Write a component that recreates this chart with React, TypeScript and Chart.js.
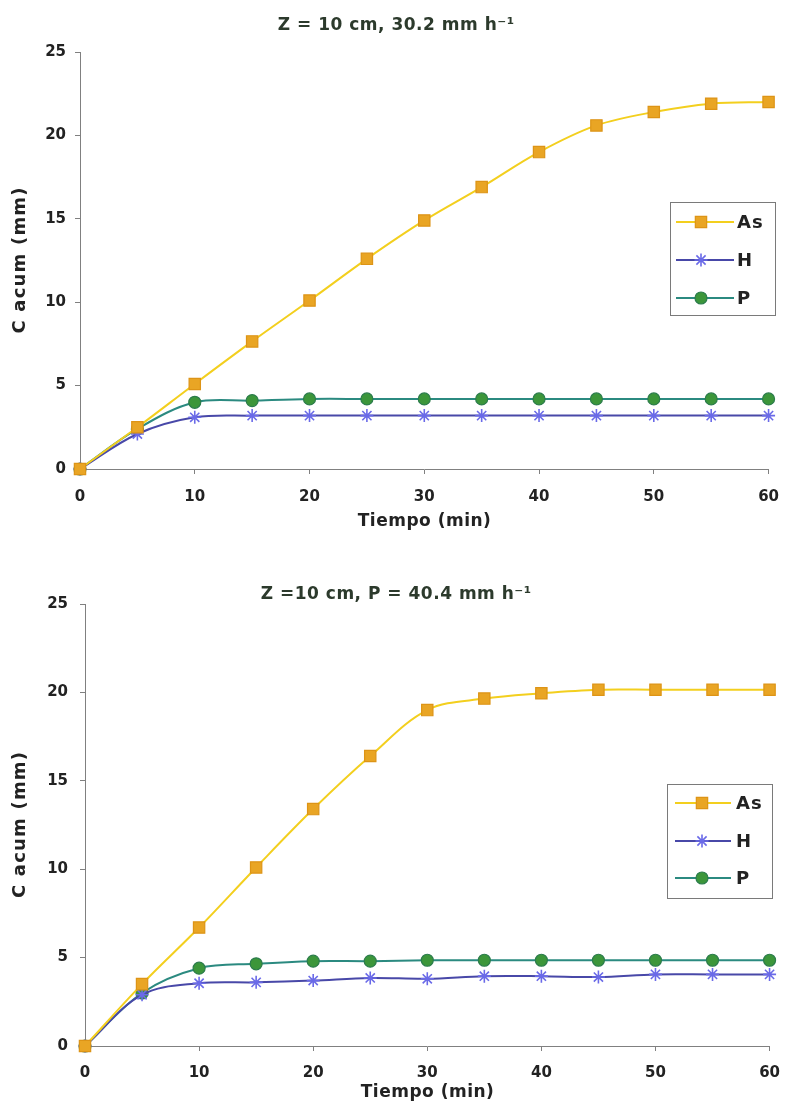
import React, { useEffect, useRef } from "react";
import { Chart, registerables } from "chart.js";
import { drawPoint } from "chart.js/helpers";

Chart.register(...registerables);

// ---------- data ----------
const tiempo = [0, 5, 10, 15, 20, 25, 30, 35, 40, 45, 50, 55, 60];

const asTop = [0, 2.5, 5.1, 7.65, 10.1, 12.6, 14.9, 16.9, 19.0, 20.6, 21.4, 21.9, 22.0];
const hTop = [0, 2.1, 3.1, 3.2, 3.2, 3.2, 3.2, 3.2, 3.2, 3.2, 3.2, 3.2, 3.2];
const pTop = [0, 2.4, 4.0, 4.1, 4.2, 4.2, 4.2, 4.2, 4.2, 4.2, 4.2, 4.2, 4.2];

const asBot = [0, 3.5, 6.7, 10.1, 13.4, 16.4, 19.0, 19.65, 19.95, 20.15, 20.15, 20.15, 20.15];
const hBot = [0, 2.9, 3.55, 3.6, 3.7, 3.85, 3.8, 3.95, 3.95, 3.9, 4.05, 4.05, 4.05];
const pBot = [0, 3.0, 4.4, 4.65, 4.8, 4.8, 4.85, 4.85, 4.85, 4.85, 4.85, 4.85, 4.85];

const seriesLabels = ["As", "H", "P"];
const titleTop = "Z = 10 cm, 30.2 mm h⁻¹";
const titleBot = "Z =10 cm, P = 40.4 mm h⁻¹";
const xTitle = "Tiempo (min)";
const yTitle = "C acum (mm)";

const FONT = "'DejaVu Sans', 'Liberation Sans', Arial, sans-serif";

const seriesStyles = [
  {
    borderColor: "#f3cf1e",
    pointStyle: "rect",
    pointRadius: 8,
    pointBorderWidth: 1.2,
    pointBackgroundColor: "#e9a524",
    pointBorderColor: "#dd9416",
  },
  {
    borderColor: "#4848a8",
    pointStyle: "star",
    pointRadius: 6.5,
    pointBorderWidth: 1.6,
    pointBackgroundColor: "#6a6ae8",
    pointBorderColor: "#6a6ae8",
  },
  {
    borderColor: "#2b8a80",
    pointStyle: "circle",
    pointRadius: 6,
    pointBorderWidth: 1.2,
    pointBackgroundColor: "#3c963a",
    pointBorderColor: "#2c7d4c",
  },
];

function spacedText(
  ctx: CanvasRenderingContext2D,
  text: string,
  cx: number,
  cy: number,
  font: string,
  spacing: number,
  color: string,
  rotate = false
) {
  ctx.save();
  ctx.font = font;
  (ctx as any).letterSpacing = `${spacing}px`;
  ctx.fillStyle = color;
  ctx.textAlign = "left";
  ctx.textBaseline = "middle";
  const w = ctx.measureText(text).width - spacing;
  ctx.translate(cx, cy);
  if (rotate) ctx.rotate(-Math.PI / 2);
  ctx.fillText(text, -w / 2, 0);
  ctx.restore();
}

const textPlugin = {
  id: "texts",
  afterDraw(chart: any, _args: any, opts: any) {
    const { ctx, chartArea } = chart;
    const midX = (chartArea.left + chartArea.right) / 2;
    const midY = (chartArea.top + chartArea.bottom) / 2;
    spacedText(ctx, opts.title, 396, opts.titleY, `bold 17px ${FONT}`, 0.5, "#2c3a2c");
    spacedText(ctx, xTitle, midX, opts.xTitleY, `bold 17px ${FONT}`, 0.5, "#222222");
    spacedText(ctx, yTitle, 20, midY, `bold 18px ${FONT}`, 1.2, "#222222", true);
  },
};

const boxLegend = {
  id: "boxLegend",
  afterDatasetsDraw(chart: any, _args: any, opts: any) {
    const { ctx } = chart;
    const { x, y, w, h, rows, lineX0, lineX1, markX, textX } = opts;
    ctx.save();
    ctx.fillStyle = "#ffffff";
    ctx.fillRect(x, y, w, h);
    ctx.strokeStyle = "#7a7a7a";
    ctx.lineWidth = 1;
    ctx.strokeRect(x + 0.5, y + 0.5, w, h);
    chart.data.datasets.forEach((ds: any, i: number) => {
      const yy = rows[i];
      ctx.strokeStyle = ds.borderColor;
      ctx.lineWidth = ds.borderWidth;
      ctx.beginPath();
      ctx.moveTo(lineX0, yy);
      ctx.lineTo(lineX1, yy);
      ctx.stroke();
      ctx.fillStyle = ds.pointBackgroundColor;
      ctx.strokeStyle = ds.pointBorderColor;
      ctx.lineWidth = ds.pointBorderWidth;
      drawPoint(
        ctx,
        { pointStyle: ds.pointStyle, radius: ds.pointRadius, borderWidth: ds.pointBorderWidth, rotation: 0 },
        markX,
        yy
      );
      ctx.fillStyle = "#222222";
      ctx.font = `bold 18px ${FONT}`;
      (ctx as any).letterSpacing = "1px";
      ctx.textAlign = "left";
      ctx.textBaseline = "middle";
      ctx.fillText(ds.label, textX, yy + 1);
    });
    ctx.restore();
  },
};

type ChartSpec = {
  top: number;
  height: number;
  title: string;
  titleY: number;
  areaTop: number;
  series: number[][];
  yAxisWidth: number;
  xAxisHeight: number;
  layoutBottom: number;
  xTitleY: number;
  xTickPad: number;
  yTickPad: number;
  legend: any;
};

function makeConfig(spec: ChartSpec): any {
  const datasets = spec.series.map((vals, i) => ({
    label: seriesLabels[i],
    data: tiempo.map((t, j) => ({ x: t, y: vals[j] })),
    borderWidth: 2,
    tension: 0.35,
    fill: false,
    clip: false,
    ...seriesStyles[i],
  }));
  return {
    type: "line",
    data: { datasets },
    plugins: [textPlugin, boxLegend],
    options: {
      responsive: false,
      animation: false,
      devicePixelRatio: 1,
      layout: { padding: { left: 8, right: 17, top: spec.areaTop, bottom: spec.layoutBottom } },
      plugins: {
        legend: { display: false },
        tooltip: { enabled: false },
        title: { display: false },
        texts: { title: spec.title, titleY: spec.titleY, xTitleY: spec.xTitleY },
        boxLegend: spec.legend,
      },
      scales: {
        x: {
          type: "linear",
          min: 0,
          max: 60,
          afterFit: (s: any) => {
            s.height = spec.xAxisHeight;
          },
          ticks: {
            stepSize: 10,
            color: "#222222",
            padding: spec.xTickPad,
            font: { family: FONT, size: 15, weight: "bold" },
          },
          grid: { drawOnChartArea: false, drawTicks: true, tickLength: 5, color: "#808080" },
          border: { display: true, color: "#808080", width: 1 },
          title: { display: false },
        },
        y: {
          type: "linear",
          min: 0,
          max: 25,
          afterFit: (s: any) => {
            s.width = spec.yAxisWidth;
          },
          ticks: {
            stepSize: 5,
            color: "#222222",
            padding: spec.yTickPad,
            font: { family: FONT, size: 15, weight: "bold" },
          },
          grid: { drawOnChartArea: false, drawTicks: true, tickLength: 5, color: "#808080" },
          border: { display: true, color: "#808080", width: 1 },
          title: { display: false },
        },
      },
    },
  };
}

function ChartBox({ spec }: { spec: ChartSpec }) {
  const ref = useRef<HTMLCanvasElement>(null);
  useEffect(() => {
    const chart = new Chart(ref.current as HTMLCanvasElement, makeConfig(spec));
    return () => chart.destroy();
  }, []);
  return (
    <canvas
      ref={ref}
      width={793}
      height={spec.height}
      style={{ position: "absolute", left: 0, top: spec.top, width: 793, height: spec.height }}
    />
  );
}

const topSpec: ChartSpec = {
  top: 0,
  height: 550,
  title: titleTop,
  titleY: 26,
  areaTop: 52,
  series: [asTop, hTop, pTop],
  yAxisWidth: 72,
  xAxisHeight: 75,
  layoutBottom: 6,
  xTitleY: 522,
  xTickPad: 14,
  yTickPad: 9,
  legend: {
    x: 670,
    y: 202,
    w: 105,
    h: 113,
    rows: [222, 260, 298],
    lineX0: 676,
    lineX1: 734,
    markX: 701,
    textX: 737,
  },
};

const botSpec: ChartSpec = {
  top: 560,
  height: 549,
  title: titleBot,
  titleY: 35,
  areaTop: 44,
  series: [asBot, hBot, pBot],
  yAxisWidth: 77,
  xAxisHeight: 60,
  layoutBottom: 3,
  xTitleY: 533,
  xTickPad: 13,
  yTickPad: 12,
  legend: {
    x: 667,
    y: 224,
    w: 105,
    h: 114,
    rows: [243, 281, 318],
    lineX0: 675,
    lineX1: 731,
    markX: 702,
    textX: 736,
  },
};

export default function App() {
  return (
    <div style={{ position: "absolute", left: 0, top: 0, width: 793, height: 1109, background: "#ffffff" }}>
      <ChartBox spec={topSpec} />
      <ChartBox spec={botSpec} />
    </div>
  );
}
